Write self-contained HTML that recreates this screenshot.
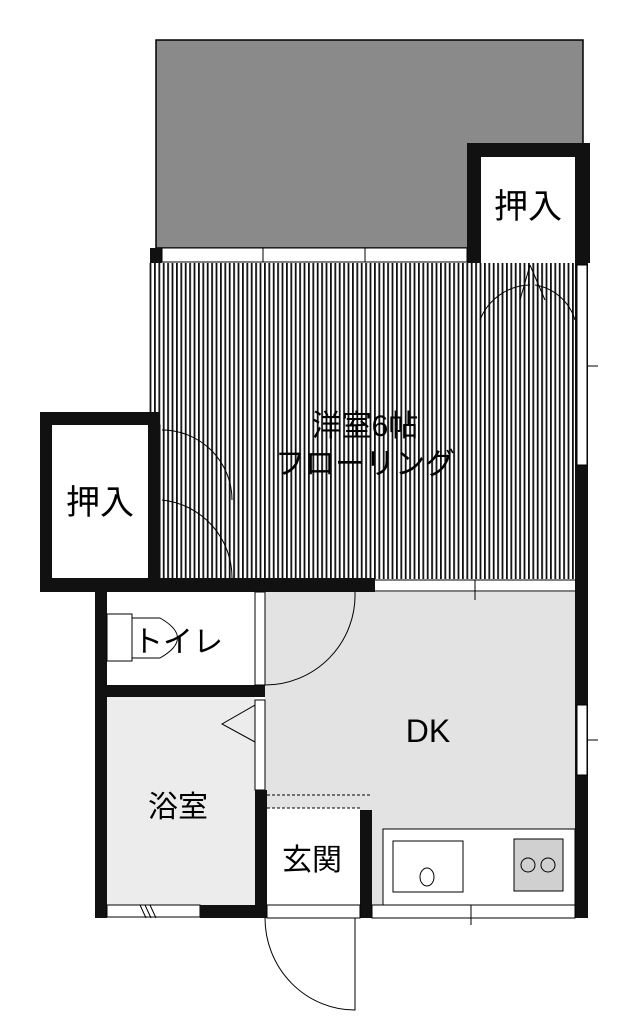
<!DOCTYPE html>
<html><head><meta charset="utf-8"><style>
body{margin:0;background:#fff;}
svg{display:block}
text{font-family:"Liberation Sans","Noto Sans CJK JP",sans-serif;fill:#000}
</style></head><body>
<svg width="635" height="1017" viewBox="0 0 635 1017">
<defs>
<pattern id="h" width="4.4" height="10" patternUnits="userSpaceOnUse"><rect width="4.4" height="10" fill="#fff"/><rect x="0" width="1.8" height="10" fill="#111"/></pattern>
</defs>
<!-- balcony -->
<rect x="156" y="40" width="427" height="208" fill="#8a8a8a" stroke="#000" stroke-width="1.5"/>
<!-- top right closet -->
<rect x="467" y="143" width="123" height="120" fill="#111"/>
<rect x="481" y="157" width="94" height="106" fill="#fff"/>
<text x="528" y="218" font-size="34" text-anchor="middle">押入</text>
<!-- main room -->
<rect x="150" y="248" width="12" height="175" fill="#111"/>
<rect x="162" y="248" width="305" height="14" fill="#fff" stroke="#000" stroke-width="1"/>
<line x1="263" y1="248" x2="263" y2="262" stroke="#000"/>
<line x1="365" y1="248" x2="365" y2="262" stroke="#000"/>
<rect x="148" y="263" width="427" height="316" fill="url(#h)"/>
<rect x="148" y="425" width="12" height="153" fill="#fff" stroke="#000" stroke-width="1"/>
<!-- left closet -->
<rect x="40" y="412" width="120" height="180" fill="#111"/>
<rect x="52" y="425" width="96" height="153" fill="#fff"/>
<text x="100" y="514" font-size="34" text-anchor="middle">押入</text>
<path d="M162 430 A70 70 0 0 1 232 500 M162 500 A78 78 0 0 1 232 578" fill="none" stroke="#000" stroke-width="1"/>
<path d="M530 265 L520 300 M530 265 L545 300 M480 320 A55 55 0 0 1 530 285 M575 320 A50 50 0 0 0 535 285" fill="none" stroke="#000" stroke-width="1"/>
<rect x="370" y="400" width="5" height="0" fill="none"/>
<text x="365" y="436" font-size="30" text-anchor="middle">洋室6帖</text>
<text x="365" y="474" font-size="30" text-anchor="middle">フローリング</text>
<!-- right wall -->
<rect x="575" y="258" width="13" height="660" fill="#111"/>
<rect x="577" y="265" width="10" height="200" fill="#fff" stroke="#000" stroke-width="1"/>
<rect x="577" y="705" width="10" height="70" fill="#fff" stroke="#000" stroke-width="1"/>
<line x1="588" y1="366" x2="598" y2="366" stroke="#000"/>
<line x1="588" y1="740" x2="598" y2="740" stroke="#000"/>
<!-- DK -->
<rect x="265" y="592" width="310" height="326" fill="#e3e3e3"/>
<rect x="40" y="578" width="335" height="14" fill="#111"/>
<line x1="375" y1="580" x2="575" y2="580" stroke="#000"/>
<line x1="375" y1="591" x2="575" y2="591" stroke="#000"/>
<line x1="475" y1="580" x2="475" y2="600" stroke="#000"/>
<text x="428" y="742" font-size="32" text-anchor="middle">DK</text>
<!-- toilet -->
<rect x="95" y="592" width="12" height="326" fill="#111"/>
<rect x="107" y="592" width="148" height="94" fill="#fff"/>
<rect x="95" y="685" width="170" height="12" fill="#111"/>
<rect x="255" y="592" width="10" height="93" fill="#fff" stroke="#000" stroke-width="1"/>
<path d="M265 685 A90 90 0 0 0 355 592" fill="none" stroke="#000"/>
<rect x="107" y="614" width="25" height="47" fill="#fff" stroke="#000"/>
<path d="M132 618 L160 618 Q195 638 160 658 L132 658" fill="none" stroke="#000"/>
<text x="178" y="652" font-size="30" text-anchor="middle">トイレ</text>
<!-- bath -->
<rect x="107" y="697" width="148" height="208" fill="#ececec"/>
<rect x="255" y="700" width="10" height="90" fill="#fff" stroke="#000" stroke-width="1"/>
<path d="M255 705 L222 724 L255 742" fill="none" stroke="#000"/>
<rect x="255" y="790" width="12" height="128" fill="#111"/>
<rect x="107" y="905" width="93" height="12" fill="#fff" stroke="#000"/>
<rect x="200" y="905" width="67" height="13" fill="#111"/>
<path d="M140 905 L146 918 M145 905 L151 918 M150 905 L156 918" stroke="#000"/>
<text x="178" y="817" font-size="30" text-anchor="middle">浴室</text>
<!-- genkan -->
<rect x="267" y="808" width="93" height="97" fill="#fff"/>
<line x1="267" y1="795" x2="372" y2="795" stroke="#000" stroke-dasharray="3,2"/>
<line x1="267" y1="808" x2="360" y2="808" stroke="#000" stroke-dasharray="3,2"/>
<rect x="360" y="810" width="12" height="108" fill="#111"/>
<rect x="267" y="905" width="93" height="13" fill="#fff" stroke="#000"/>
<text x="312" y="870" font-size="30" text-anchor="middle">玄関</text>
<path d="M265 918 A90 92 0 0 0 355 1010 L355 918" fill="none" stroke="#000"/>
<!-- kitchen -->
<rect x="383" y="829" width="192" height="76" fill="#fff" stroke="#000"/>
<rect x="393" y="841" width="70" height="51" fill="#fff" stroke="#000"/>
<ellipse cx="427" cy="877" rx="7" ry="9" fill="none" stroke="#000"/>
<rect x="514" y="839" width="49" height="52" fill="#d0d0d0" stroke="#000"/>
<circle cx="528" cy="865" r="7" fill="none" stroke="#000"/>
<circle cx="548" cy="865" r="7" fill="none" stroke="#000"/>
<rect x="372" y="905" width="203" height="13" fill="#fff" stroke="#000"/>
<line x1="471" y1="905" x2="471" y2="925" stroke="#000"/>
</svg>
</body></html>
